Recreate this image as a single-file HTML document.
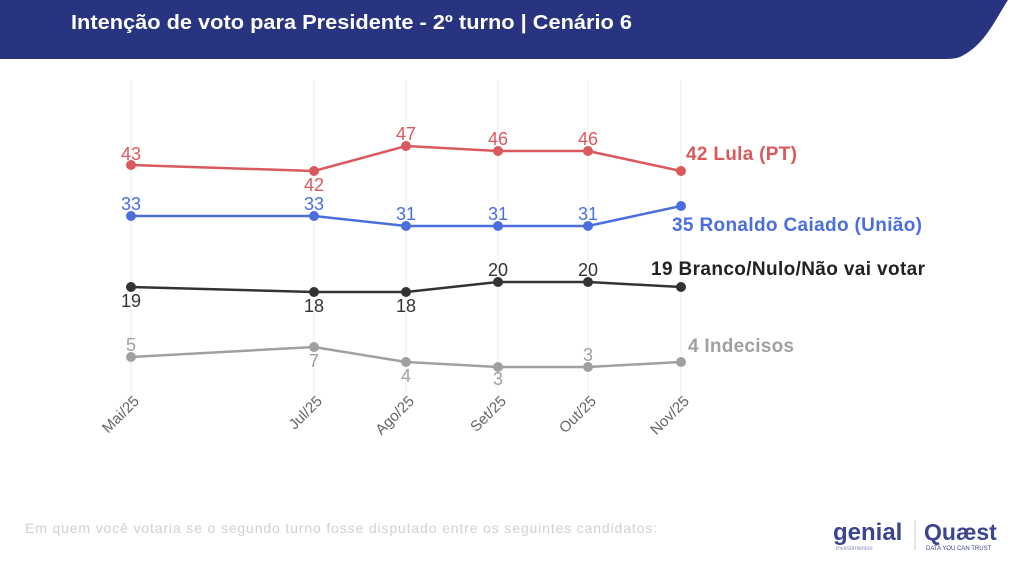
<!DOCTYPE html>
<html><head><meta charset="utf-8"><style>
body{margin:0;width:1024px;height:568px;background:#fff;overflow:hidden;font-family:"Liberation Sans",sans-serif}
</style></head><body>
<svg width="1024" height="568" xmlns="http://www.w3.org/2000/svg" font-family="Liberation Sans, sans-serif">
<path d="M0 0 H1008 C995 20 985 45 960 57 Q955 59 945 59 H0 Z" fill="#28347f"/>
<text x="71" y="29" fill="#fff" font-size="20" font-weight="bold" textLength="561" lengthAdjust="spacingAndGlyphs">Intenção de voto para Presidente - 2º turno | Cenário 6</text>
<g stroke="#ececec" stroke-width="1">
<line x1="131" y1="80" x2="131" y2="395"/><line x1="314" y1="80" x2="314" y2="395"/><line x1="406" y1="80" x2="406" y2="395"/><line x1="498" y1="80" x2="498" y2="395"/><line x1="588" y1="80" x2="588" y2="395"/><line x1="681" y1="80" x2="681" y2="395"/>
</g>
<g fill="none" stroke-width="2.5">
<polyline stroke="#d9595c" points="131,165 314,171 406,146 498,151 588,151 681,171"/>
<polyline stroke="#4a6fdc" points="131,216 314,216 406,226 498,226 588,226 681,206"/>
<polyline stroke="#333" points="131,287 314,292 406,292 498,282 588,282 681,287"/>
<polyline stroke="#a0a0a0" points="131,357 314,347 406,362 498,367 588,367 681,362"/>
</g>
<g fill="#d9595c"><circle cx="131" cy="165" r="5"/><circle cx="314" cy="171" r="5"/><circle cx="406" cy="146" r="5"/><circle cx="498" cy="151" r="5"/><circle cx="588" cy="151" r="5"/><circle cx="681" cy="171" r="5"/></g>
<g fill="#4a6fdc"><circle cx="131" cy="216" r="5"/><circle cx="314" cy="216" r="5"/><circle cx="406" cy="226" r="5"/><circle cx="498" cy="226" r="5"/><circle cx="588" cy="226" r="5"/><circle cx="681" cy="206" r="5"/></g>
<g fill="#333"><circle cx="131" cy="287" r="5"/><circle cx="314" cy="292" r="5"/><circle cx="406" cy="292" r="5"/><circle cx="498" cy="282" r="5"/><circle cx="588" cy="282" r="5"/><circle cx="681" cy="287" r="5"/></g>
<g fill="#a0a0a0"><circle cx="131" cy="357" r="5"/><circle cx="314" cy="347" r="5"/><circle cx="406" cy="362" r="5"/><circle cx="498" cy="367" r="5"/><circle cx="588" cy="367" r="5"/><circle cx="681" cy="362" r="5"/></g>
<g font-size="18" text-anchor="middle">
<g fill="#d9595c"><text x="131" y="160">43</text><text x="314" y="191">42</text><text x="406" y="140">47</text><text x="498" y="145">46</text><text x="588" y="145">46</text></g>
<g fill="#4a6fdc"><text x="131" y="210">33</text><text x="314" y="210">33</text><text x="406" y="220">31</text><text x="498" y="220">31</text><text x="588" y="220">31</text></g>
<g fill="#333"><text x="131" y="307">19</text><text x="314" y="312">18</text><text x="406" y="312">18</text><text x="498" y="276">20</text><text x="588" y="276">20</text></g>
<g fill="#a0a0a0"><text x="131" y="351">5</text><text x="314" y="367">7</text><text x="406" y="382">4</text><text x="498" y="385">3</text><text x="588" y="361">3</text></g>
</g>
<g font-size="19" font-weight="bold">
<text x="686" y="160" fill="#d9595c" textLength="111">42 Lula (PT)</text>
<text x="672" y="231" fill="#4a6fdc" textLength="250">35 Ronaldo Caiado (União)</text>
<text x="651" y="275" fill="#222" textLength="274">19 Branco/Nulo/Não vai votar</text>
<text x="688" y="352" fill="#a0a0a0" textLength="106">4 Indecisos</text>
</g>
<g font-size="15" fill="#666" text-anchor="end">
<text transform="translate(140,402) rotate(-45)">Mai/25</text>
<text transform="translate(323,402) rotate(-45)">Jul/25</text>
<text transform="translate(415,402) rotate(-45)">Ago/25</text>
<text transform="translate(507,402) rotate(-45)">Set/25</text>
<text transform="translate(597,402) rotate(-45)">Out/25</text>
<text transform="translate(690,402) rotate(-45)">Nov/25</text>
</g>
<text x="25" y="533" font-size="14" fill="#d0d0d0" textLength="632">Em quem você votaria se o segundo turno fosse disputado entre os seguintes candidatos:</text>
<text x="833" y="540" font-size="24" font-weight="bold" fill="#3a4590">genial</text>
<text x="836" y="550" font-size="6" fill="#8890c0">investimentos</text>
<line x1="915" y1="520" x2="915" y2="550" stroke="#ccc"/>
<text x="924" y="540" font-size="23" font-weight="bold" fill="#3a4590">Quæst</text>
<text x="926" y="550" font-size="6" fill="#3a4590">DATA YOU CAN TRUST</text>
</svg>
</body></html>
